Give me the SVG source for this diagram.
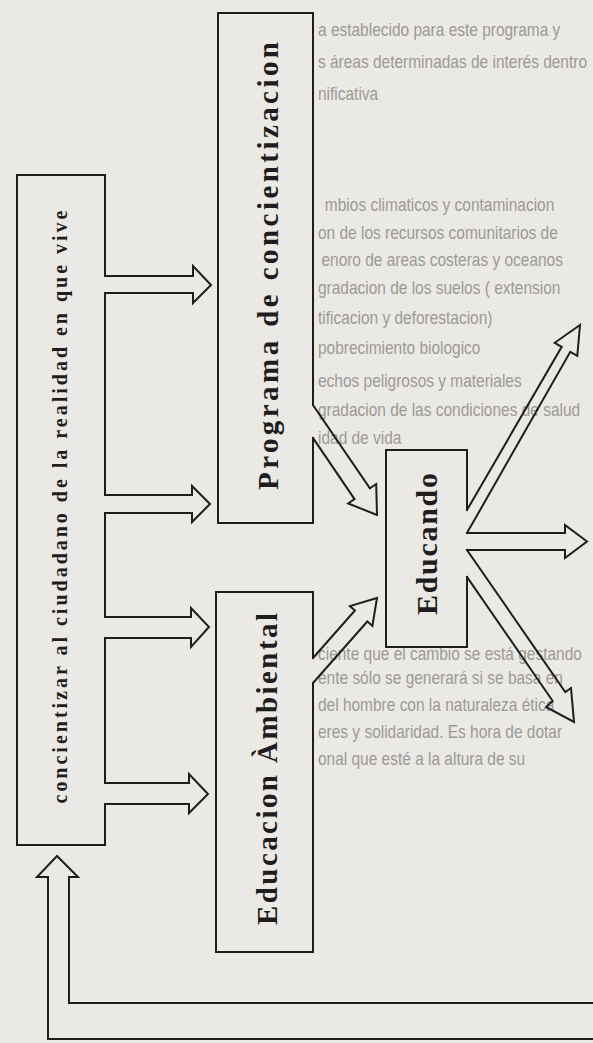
<svg xmlns="http://www.w3.org/2000/svg" width="593" height="1043" viewBox="0 0 593 1043">
<style>
.ln{fill:none;stroke:#1e1e1e;stroke-width:2;stroke-linejoin:miter;stroke-linecap:square}
.lbl{font-family:"Liberation Serif","DejaVu Serif",serif;font-weight:bold;fill:#1e1e1e;text-anchor:middle}
.bg{font-family:"Liberation Sans","Arial",sans-serif;font-size:18px;fill:#9c9995}
</style>
<rect x="0" y="0" width="593" height="1043" fill="#ebe9e5"/>
<g id="background-text" transform="translate(318,0) scale(0.86,1)">
<text class="bg" x="0" y="36">a establecido para este programa y</text>
<text class="bg" x="0" y="68">s áreas determinadas de interés dentro</text>
<text class="bg" x="0" y="100">nificativa</text>
<text class="bg" x="8" y="211">mbios climaticos y contaminacion</text>
<text class="bg" x="0" y="239">on de los recursos comunitarios de</text>
<text class="bg" x="4" y="266">enoro de areas costeras y oceanos</text>
<text class="bg" x="0" y="294">gradacion de los suelos ( extension</text>
<text class="bg" x="0" y="324">tificacion y deforestacion)</text>
<text class="bg" x="0" y="354">pobrecimiento biologico</text>
<text class="bg" x="0" y="387">echos peligrosos y materiales</text>
<text class="bg" x="0" y="416">gradacion de las condiciones de salud</text>
<text class="bg" x="0" y="444">idad de vida</text>
<text class="bg" x="0" y="660">ciente que el cambio se está gestando</text>
<text class="bg" x="0" y="684">ente sólo se generará si se basa en</text>
<text class="bg" x="0" y="711">del hombre con la naturaleza ética</text>
<text class="bg" x="0" y="738">eres y solidaridad. Es hora de dotar</text>
<text class="bg" x="0" y="765">onal que esté a la altura de su</text>
</g>
<g id="node-concientizar">
<path class="ln" d="M105,276 V175 H17 V845 H105 V804 M105,783 V638 M105,617 V513 M105,495 V293"/>
<text class="lbl" font-size="20" transform="translate(67,507) rotate(-90)" textLength="593" lengthAdjust="spacing">concientizar al ciudadano de la realidad en que vive</text>
</g>
<g id="node-programa">
<path class="ln" d="M313,405 V13 H218 V523 H313 V438"/>
<text class="lbl" font-size="29" transform="translate(278,266) rotate(-90)" textLength="448" lengthAdjust="spacing">Programa de concientizacion</text>
</g>
<g id="node-educacion">
<path class="ln" d="M313,658 V592 H216 V952 H313 V683"/>
<text class="lbl" font-size="29" transform="translate(277,769) rotate(-90)" textLength="312" lengthAdjust="spacing">Educacion Àmbiental</text>
</g>
<g id="node-educando">
<path class="ln" d="M467,510 V450 H386 V647 H467 V577"/>
<text class="lbl" font-size="30" transform="translate(437,544) rotate(-90)" textLength="142" lengthAdjust="spacing">Educando</text>
</g>
<g id="connectors">
<path class="ln" d="M105,276 H193 V266 L211,285 L193,303 V293 H105"/>
<path class="ln" d="M105,495 H192 V486 L210,504 L192,522 V513 H105"/>
<path class="ln" d="M105,617 H191 V608 L209,627 L191,647 V638 H105"/>
<path class="ln" d="M105,783 H189 V774 L208,794 L189,813 V804 H105"/>
<path class="ln" d="M313,405 L369.9,488.3 L376.2,484 L377,515 L348.2,503.4 L354.5,499.1 L313,438"/>
<path class="ln" d="M313,658 L354.9,610.5 L349.9,606.1 L377,598 L372.4,625.9 L367.3,621.5 L313,683"/>
<path class="ln" d="M467,510 L561.7,346.8 L554.7,342.8 L580,325 L577.3,355.8 L570.3,351.8 L467,533"/>
<path class="ln" d="M467,533 H565 V525 L587,541.5 L565,558 V550 H467"/>
<path class="ln" d="M467,550 L565.3,692 L571,688 L574,722 L546,707 L552.7,701 L467,577"/>
<path class="ln" d="M600,1003 H69 V877 H78 L57,856 L37,877 H48 V1039 H600"/>
</g>
</svg>
